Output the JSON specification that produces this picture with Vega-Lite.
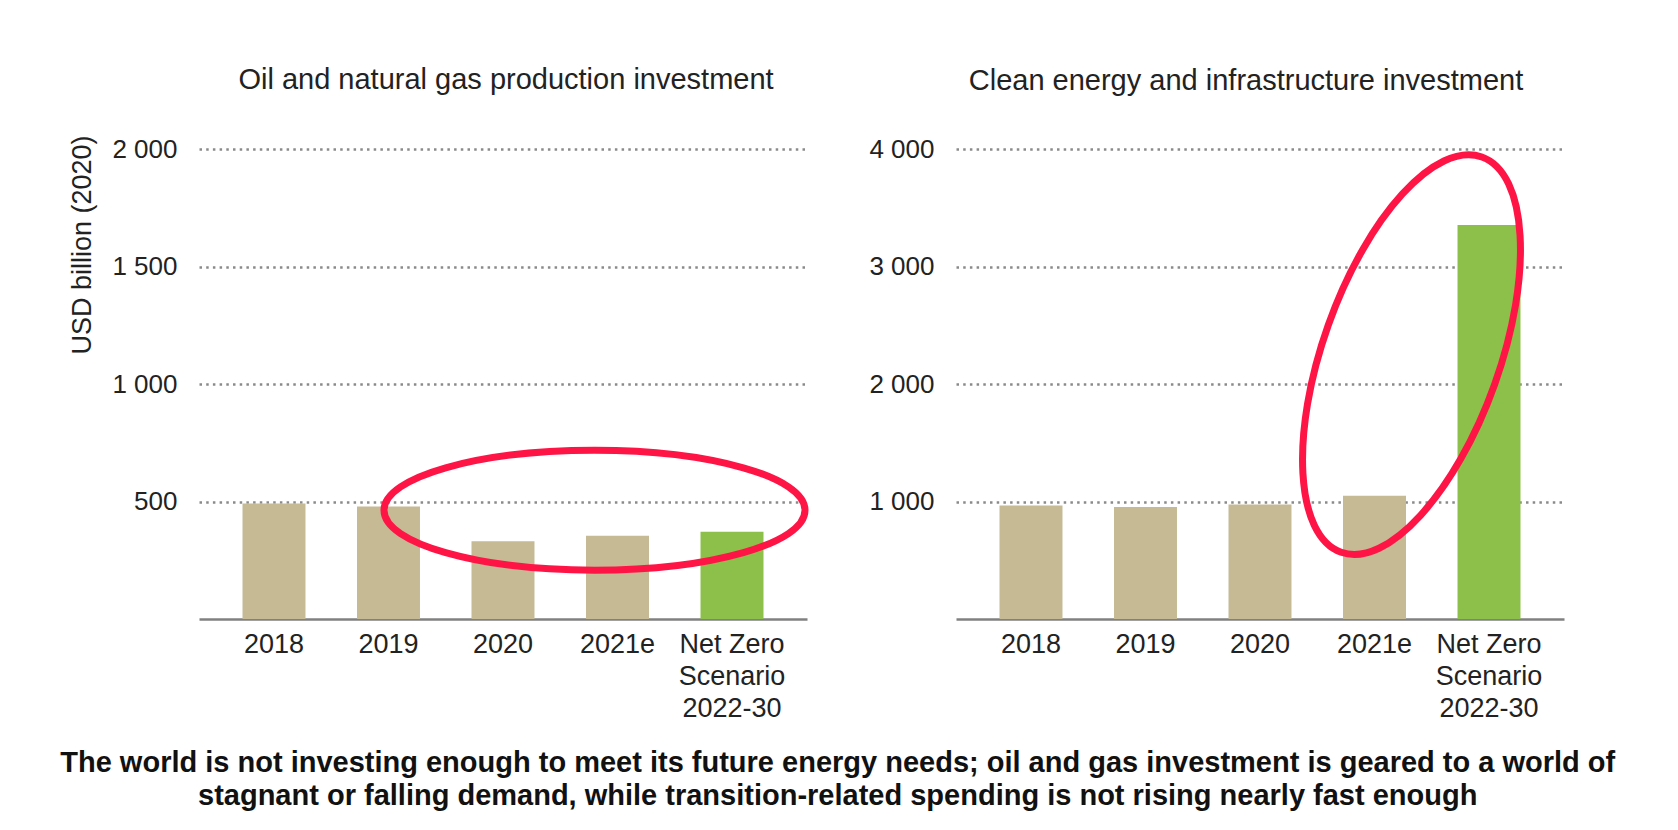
{
  "$schema": "https://vega.github.io/schema/vega-lite/v6.json",
  "background": "white",
  "padding": {"left": 60, "top": 66, "right": 10, "bottom": 10},
  "datasets": {
    "oil": [
      {"period": "2018", "value": 491, "kind": "actual"},
      {"period": "2019", "value": 479, "kind": "actual"},
      {"period": "2020", "value": 331, "kind": "actual"},
      {"period": "2021e", "value": 354, "kind": "actual"},
      {"period": "Net Zero Scenario 2022-30", "value": 371, "kind": "scenario"}
    ],
    "clean": [
      {"period": "2018", "value": 965, "kind": "actual"},
      {"period": "2019", "value": 953, "kind": "actual"},
      {"period": "2020", "value": 974, "kind": "actual"},
      {"period": "2021e", "value": 1050, "kind": "actual"},
      {"period": "Net Zero Scenario 2022-30", "value": 3353, "kind": "scenario"}
    ]
  },
  "config": {
    "font": "Liberation Sans",
    "view": {"stroke": null},
    "axisX": {
      "labelFontSize": 27, "labelColor": "#222", "labelPadding": 12, "labelAngle": 0,
      "labelLineHeight": 32, "labelLimit": 400, "ticks": false, "grid": false,
      "domainColor": "#808080", "domainWidth": 2.5, "title": null,
      "labelExpr": "datum.value == 'Net Zero Scenario 2022-30' ? ['Net Zero', 'Scenario', '2022-30'] : datum.value"
    },
    "axisY": {
      "labelFontSize": 26, "labelColor": "#222", "labelPadding": 22, "ticks": false,
      "domain": false, "grid": true, "gridColor": "#8a8a8a", "gridDash": [2.5, 4.2], "gridWidth": 2.5,
      "titleFontSize": 27, "titleFontWeight": "normal", "titleColor": "#222", "titlePadding": 15.5,
      "labelExpr": "replace(format(datum.value, ','), ',', ' ')"
    },
    "title": {"fontSize": 29, "fontWeight": "normal", "color": "#222", "offset": 40}
  },
  "title": {
    "text": [
      "The world is not investing enough to meet its future energy needs; oil and gas investment is geared to a world of",
      "stagnant or falling demand, while transition-related spending is not rising nearly fast enough"
    ],
    "orient": "bottom", "anchor": "middle", "fontSize": 29, "fontWeight": "bold", "color": "#111",
    "lineHeight": 33, "offset": 28, "dx": 21.5
  },
  "spacing": 48,
  "hconcat": [
    {
      "width": 608, "height": 470,
      "title": {"text": "Oil and natural gas production investment", "dx": 3},
      "layer": [
        {
          "data": {"name": "oil"},
          "mark": {"type": "bar"},
          "encoding": {
            "x": {"field": "period", "type": "nominal",
              "scale": {"domain": ["2018", "2019", "2020", "2021e", "Net Zero Scenario 2022-30"], "paddingInner": 0.45, "paddingOuter": 0.38}},
            "y": {"field": "value", "type": "quantitative",
              "scale": {"domain": [0, 2000], "nice": false},
              "axis": {"values": [500, 1000, 1500, 2000], "title": "USD billion (2020)", "titleAnchor": "end", "titleY": -14}},
            "color": {"field": "kind", "type": "nominal",
              "scale": {"domain": ["actual", "scenario"], "range": ["#C5BA94", "#8DC04B"]}, "legend": null}
          }
        },
        {
          "data": {"values": [{}]},
          "mark": {"type": "point", "filled": false, "color": "#FF1446", "opacity": 1, "strokeWidth": 7,
            "size": 177241, "xOffset": -23,
            "shape": "M-1,0C-1,-0.1574,-0.5523,-0.285,0,-0.285C0.5523,-0.285,1,-0.1574,1,0C1,0.1574,0.5523,0.285,0,0.285C-0.5523,0.285,-1,0.1574,-1,0Z"},
          "encoding": {
            "x": {"datum": "2021e", "type": "nominal"},
            "y": {"datum": 463, "type": "quantitative"}
          }
        }
      ]
    },
    {
      "width": 608, "height": 470,
      "title": {"text": "Clean energy and infrastructure investment", "dx": -14},
      "layer": [
        {
          "data": {"name": "clean"},
          "mark": {"type": "bar"},
          "encoding": {
            "x": {"field": "period", "type": "nominal",
              "scale": {"domain": ["2018", "2019", "2020", "2021e", "Net Zero Scenario 2022-30"], "paddingInner": 0.45, "paddingOuter": 0.38}},
            "y": {"field": "value", "type": "quantitative",
              "scale": {"domain": [0, 4000], "nice": false},
              "axis": {"values": [1000, 2000, 3000, 4000], "title": null}},
            "color": {"field": "kind", "type": "nominal",
              "scale": {"domain": ["actual", "scenario"], "range": ["#C5BA94", "#8DC04B"]}, "legend": null}
          }
        },
        {
          "data": {"values": [{}]},
          "mark": {"type": "point", "filled": false, "color": "#FF1446", "opacity": 1, "strokeWidth": 7,
            "size": 176000, "angle": 19.6, "xOffset": 37,
            "shape": "M0,-1C0.2325,-1,0.421,-0.5523,0.421,0C0.421,0.5523,0.2325,1,0,1C-0.2325,1,-0.421,0.5523,-0.421,0C-0.421,-0.5523,-0.2325,-1,0,-1Z"},
          "encoding": {
            "x": {"datum": "2021e", "type": "nominal"},
            "y": {"datum": 2250, "type": "quantitative"}
          }
        }
      ]
    }
  ]
}
